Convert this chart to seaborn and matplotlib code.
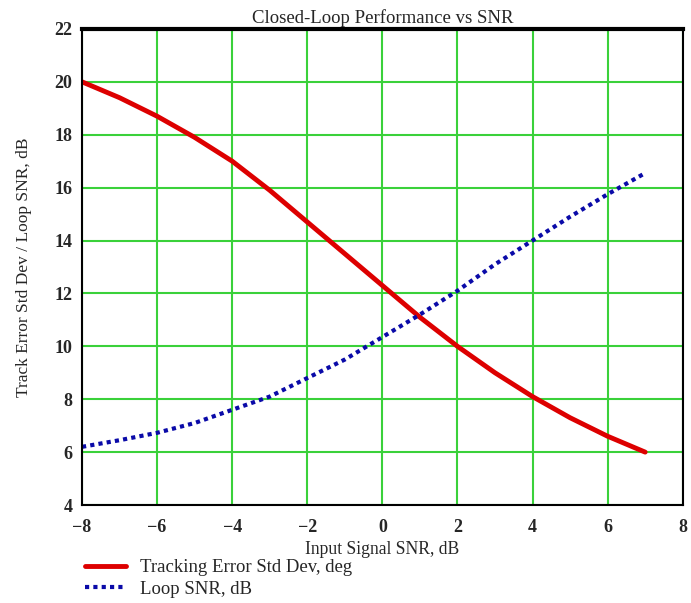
import matplotlib
matplotlib.use("Agg")
import matplotlib.pyplot as plt
import seaborn as sns
import pandas as pd

# valores
snr_in = [-8, -7, -6, -5, -4, -3, -2, -1, 0, 1, 2, 3, 4, 5, 6, 7]
track_err = [20.0, 19.4, 18.7, 17.9, 17.0, 15.9, 14.7, 13.5, 12.3, 11.1, 10.0, 9.0, 8.1, 7.3, 6.6, 6.0]
loop_snr = [6.2, 6.45, 6.73, 7.1, 7.6, 8.1, 8.8, 9.5, 10.35, 11.2, 12.1, 13.1, 14.0, 14.9, 15.75, 16.55]

df = pd.DataFrame({"snr": snr_in, "track": track_err, "loop": loop_snr})

sns.set_style("white")
plt.rcParams["font.family"] = ["Liberation Serif", "DejaVu Serif"]

fig = plt.figure(figsize=(6.91, 6.03), dpi=100)
ax = fig.add_axes([0.1187, 0.1625, 0.8693, 0.7895])

sns.lineplot(data=df, x="snr", y="track", ax=ax, color="#dd0000", lw=3.5,
             label="Tracking Error Std Dev, deg")
sns.lineplot(data=df, x="snr", y="loop", ax=ax, color="#0a0aa8", lw=3,
             linestyle=(0, (1, 1)), label="Loop SNR, dB")

ax.set_xlim(-8, 8)
ax.set_ylim(4, 22)
ax.set_xticks(range(-8, 9, 2))
ax.set_yticks(range(4, 23, 2))
ax.grid(True, color="#3ad13a", lw=1.5)
ax.set_axisbelow(True)
for lab in ax.get_xticklabels() + ax.get_yticklabels():
    lab.set_fontweight("bold")
ax.tick_params(labelsize=13, length=0)
ax.tick_params(axis="x", pad=10)
ax.tick_params(axis="y", pad=7)

for s in ax.spines.values():
    s.set_color("black")
    s.set_linewidth(1.5)
ax.spines["top"].set_linewidth(3)

ax.set_title("Closed-Loop Performance vs SNR", fontsize=13.5, pad=4)
ax.set_xlabel("Input Signal SNR, dB", fontsize=12.7, labelpad=4)
ax.set_ylabel("Track Error Std Dev / Loop SNR, dB", fontsize=12.5, labelpad=16)

ax.legend(loc="upper left", bbox_to_anchor=(-0.008, -0.098), frameon=False,
          fontsize=13.5, handlelength=2.2, handletextpad=0.75, borderaxespad=0,
          labelspacing=0.22)

fig.savefig("out.png", dpi=100)
